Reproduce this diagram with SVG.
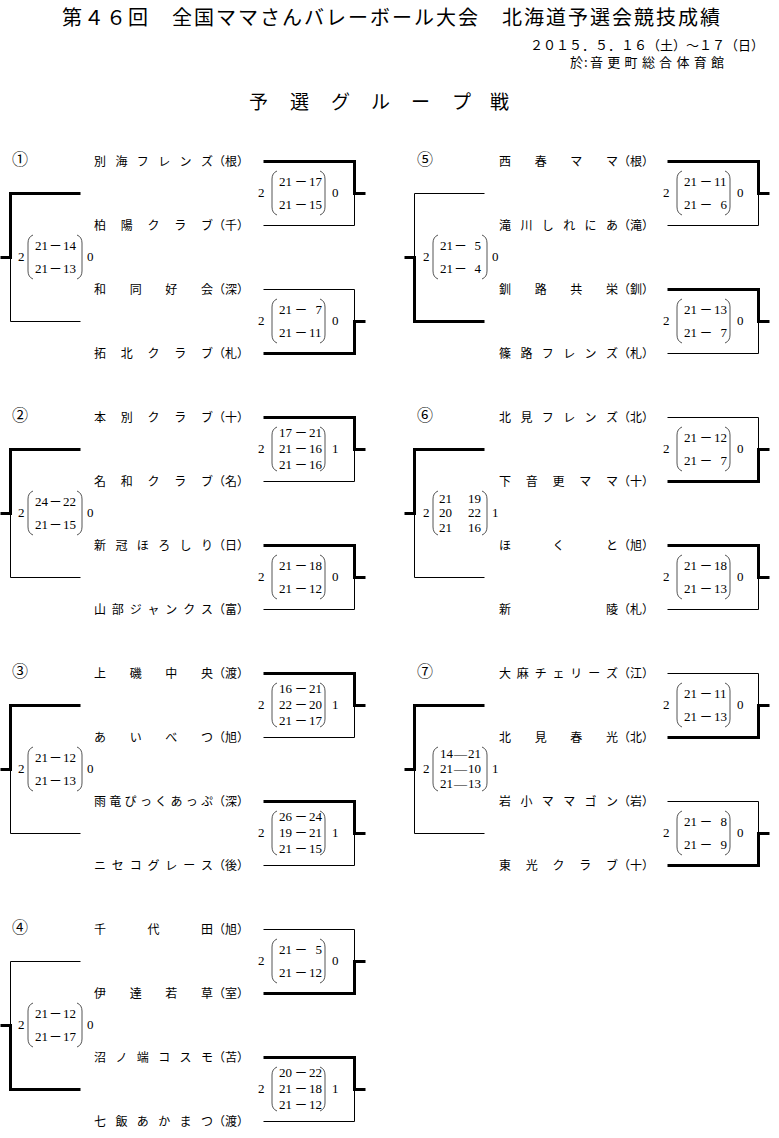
<svg xmlns="http://www.w3.org/2000/svg" xmlns:xlink="http://www.w3.org/1999/xlink" width="779" height="1138" viewBox="0 0 779 1138">
<style>
.hd{font-family:"Noto Sans CJK JP","Noto Sans CJK SC",sans-serif;fill:#000}
.tm{font-family:"Noto Sans CJK JP","Noto Sans CJK SC",sans-serif;font-size:12px;fill:#000}
.cn{font-family:"Noto Sans CJK JP","Noto Sans CJK SC",sans-serif;font-size:16px;fill:#000}
.sc{font-family:"Liberation Serif","Noto Sans CJK JP",serif;font-size:13px;fill:#000}
.pr{fill:none;stroke:#555;stroke-width:1}
.k{fill:none;stroke:#000;stroke-width:3;stroke-linejoin:miter}
.n{fill:none;stroke:#000;stroke-width:1}
</style>
<defs>
<path id="lp" class="pr" d="M5,-22 Q0,-20 0,-14 V14 Q0,20 5,22"/>
<path id="rp" class="pr" d="M0,-22 Q5,-20 5,-14 V14 Q5,20 0,22"/>
</defs>
<rect width="779" height="1138" fill="#fff"/>

<g id="header">
<text class="hd" x="62" y="25" font-size="20" letter-spacing="2">第４６回　全国ママさんバレーボール大会　北海道予選会競技成績</text>
<text class="hd" x="530" y="50" font-size="13">２０１５．５．１６（土）～１７（日）</text>
<text class="hd" x="570 584 590 607.3 624.6 641.9 659.1 676.4 693.7 711" y="67" font-size="13">於:音更町総合体育館</text>
<text class="hd" x="249 290 331 371 411 452 490" y="109" font-size="19">予選グループ戦</text>
</g>

<g id="connectors">
<g transform="translate(0.5,161.5)">
<path class="k" d="M263,0 H354 V32 H365"/><path class="n" d="M354,32 V64 H263"/>
<path class="k" d="M263,192 H354 V160 H365"/><path class="n" d="M354,160 V128 H263"/>
<path class="k" d="M80,32 H10 V96 H0"/><path class="n" d="M10,96 V160 H80"/>
</g>
<g transform="translate(0.5,417.5)">
<path class="k" d="M263,0 H354 V32 H365"/><path class="n" d="M354,32 V64 H263"/>
<path class="k" d="M263,128 H354 V160 H365"/><path class="n" d="M354,160 V192 H263"/>
<path class="k" d="M80,32 H10 V96 H0"/><path class="n" d="M10,96 V160 H80"/>
</g>
<g transform="translate(0.5,673.5)">
<path class="k" d="M263,0 H354 V32 H365"/><path class="n" d="M354,32 V64 H263"/>
<path class="k" d="M263,128 H354 V160 H365"/><path class="n" d="M354,160 V192 H263"/>
<path class="k" d="M80,32 H10 V96 H0"/><path class="n" d="M10,96 V160 H80"/>
</g>
<g transform="translate(0.5,929.5)">
<path class="k" d="M263,64 H354 V32 H365"/><path class="n" d="M354,32 V0 H263"/>
<path class="k" d="M263,128 H354 V160 H365"/><path class="n" d="M354,160 V192 H263"/>
<path class="k" d="M80,160 H10 V96 H0"/><path class="n" d="M10,96 V32 H80"/>
</g>
<g transform="translate(404.5,161.5)">
<path class="k" d="M263,0 H354 V32 H365"/><path class="n" d="M354,32 V64 H263"/>
<path class="k" d="M263,128 H354 V160 H365"/><path class="n" d="M354,160 V192 H263"/>
<path class="k" d="M80,160 H10 V96 H0"/><path class="n" d="M10,96 V32 H80"/>
</g>
<g transform="translate(404.5,417.5)">
<path class="k" d="M263,64 H354 V32 H365"/><path class="n" d="M354,32 V0 H263"/>
<path class="k" d="M263,128 H354 V160 H365"/><path class="n" d="M354,160 V192 H263"/>
<path class="k" d="M80,32 H10 V96 H0"/><path class="n" d="M10,96 V160 H80"/>
</g>
<g transform="translate(404.5,673.5)">
<path class="k" d="M263,64 H354 V32 H365"/><path class="n" d="M354,32 V0 H263"/>
<path class="k" d="M263,192 H354 V160 H365"/><path class="n" d="M354,160 V128 H263"/>
<path class="k" d="M80,32 H10 V96 H0"/><path class="n" d="M10,96 V160 H80"/>
</g>
</g>

<!-- group labels -->
<g id="label-1" transform="translate(0,161)"><text class="cn" x="12" y="4">①</text></g>
<g id="label-2" transform="translate(0,417)"><text class="cn" x="12" y="4">②</text></g>
<g id="label-3" transform="translate(0,673)"><text class="cn" x="12" y="4">③</text></g>
<g id="label-4" transform="translate(0,929)"><text class="cn" x="12" y="4">④</text></g>
<g id="label-5" transform="translate(405,161)"><text class="cn" x="12" y="4">⑤</text></g>
<g id="label-6" transform="translate(405,417)"><text class="cn" x="12" y="4">⑥</text></g>
<g id="label-7" transform="translate(405,673)"><text class="cn" x="12" y="4">⑦</text></g>

<!-- teams group 1 -->
<g id="g1-t1" transform="translate(0,161)"><text class="tm" x="94 115.4 136.8 158.2 179.6 201 213 225 237" y="4.5">別海フレンズ（根）</text></g>
<g id="g1-t2" transform="translate(0,225)"><text class="tm" x="94 120.8 147.5 174.3 201 213 225 237" y="4.5">柏陽クラブ（千）</text></g>
<g id="g1-t3" transform="translate(0,289)"><text class="tm" x="94 129.7 165.3 201 213 225 237" y="4.5">和同好会（深）</text></g>
<g id="g1-t4" transform="translate(0,353)"><text class="tm" x="94 120.8 147.5 174.3 201 213 225 237" y="4.5">拓北クラブ（札）</text></g>
<!-- group 2 -->
<g id="g2-t1" transform="translate(0,417)"><text class="tm" x="94 120.8 147.5 174.3 201 213 225 237" y="4.5">本別クラブ（十）</text></g>
<g id="g2-t2" transform="translate(0,481)"><text class="tm" x="94 120.8 147.5 174.3 201 213 225 237" y="4.5">名和クラブ（名）</text></g>
<g id="g2-t3" transform="translate(0,545)"><text class="tm" x="94 115.4 136.8 158.2 179.6 201 213 225 237" y="4.5">新冠ほろしり（日）</text></g>
<g id="g2-t4" transform="translate(0,609)"><text class="tm" x="94 111.8 129.7 147.5 165.3 183.2 201 213 225 237" y="4.5">山部ジャンクス（富）</text></g>
<!-- group 3 -->
<g id="g3-t1" transform="translate(0,673)"><text class="tm" x="94 129.7 165.3 201 213 225 237" y="4.5">上磯中央（渡）</text></g>
<g id="g3-t2" transform="translate(0,737)"><text class="tm" x="94 129.7 165.3 201 213 225 237" y="4.5">あいべつ（旭）</text></g>
<g id="g3-t3" transform="translate(0,801)"><text class="tm" x="94 109.3 124.6 139.9 155.1 170.4 185.7 201 213 225 237" y="4.5">雨竜ぴっくあっぷ（深）</text></g>
<g id="g3-t4" transform="translate(0,865)"><text class="tm" x="94 111.8 129.7 147.5 165.3 183.2 201 213 225 237" y="4.5">ニセコグレース（後）</text></g>
<!-- group 4 -->
<g id="g4-t1" transform="translate(0,929)"><text class="tm" x="94 147.5 201 213 225 237" y="4.5">千代田（旭）</text></g>
<g id="g4-t2" transform="translate(0,993)"><text class="tm" x="94 129.7 165.3 201 213 225 237" y="4.5">伊達若草（室）</text></g>
<g id="g4-t3" transform="translate(0,1057)"><text class="tm" x="94 115.4 136.8 158.2 179.6 201 213 225 237" y="4.5">沼ノ端コスモ（苫）</text></g>
<g id="g4-t4" transform="translate(0,1121)"><text class="tm" x="94 115.4 136.8 158.2 179.6 201 213 225 237" y="4.5">七飯あかまつ（渡）</text></g>
<!-- group 5 -->
<g id="g5-t1" transform="translate(405,161)"><text class="tm" x="94 129.7 165.3 201 213 225 237" y="4.5">西春ママ（根）</text></g>
<g id="g5-t2" transform="translate(405,225)"><text class="tm" x="94 115.4 136.8 158.2 179.6 201 213 225 237" y="4.5">滝川しれにあ（滝）</text></g>
<g id="g5-t3" transform="translate(405,289)"><text class="tm" x="94 129.7 165.3 201 213 225 237" y="4.5">釧路共栄（釧）</text></g>
<g id="g5-t4" transform="translate(405,353)"><text class="tm" x="94 115.4 136.8 158.2 179.6 201 213 225 237" y="4.5">篠路フレンズ（札）</text></g>
<!-- group 6 -->
<g id="g6-t1" transform="translate(405,417)"><text class="tm" x="94 115.4 136.8 158.2 179.6 201 213 225 237" y="4.5">北見フレンズ（北）</text></g>
<g id="g6-t2" transform="translate(405,481)"><text class="tm" x="94 120.8 147.5 174.3 201 213 225 237" y="4.5">下音更ママ（十）</text></g>
<g id="g6-t3" transform="translate(405,545)"><text class="tm" x="94 147.5 201 213 225 237" y="4.5">ほくと（旭）</text></g>
<g id="g6-t4" transform="translate(405,609)"><text class="tm" x="94 201 213 225 237" y="4.5">新陵（札）</text></g>
<!-- group 7 -->
<g id="g7-t1" transform="translate(405,673)"><text class="tm" x="94 111.8 129.7 147.5 165.3 183.2 201 213 225 237" y="4.5">大麻チェリーズ（江）</text></g>
<g id="g7-t2" transform="translate(405,737)"><text class="tm" x="94 129.7 165.3 201 213 225 237" y="4.5">北見春光（北）</text></g>
<g id="g7-t3" transform="translate(405,801)"><text class="tm" x="94 115.4 136.8 158.2 179.6 201 213 225 237" y="4.5">岩小ママゴン（岩）</text></g>
<g id="g7-t4" transform="translate(405,865)"><text class="tm" x="94 120.8 147.5 174.3 201 213 225 237" y="4.5">東光クラブ（十）</text></g>

<!-- scores group 1 -->
<g id="g1-m1" transform="translate(0,193)">
<text class="sc" x="258" y="4.3">2</text><use href="#lp" x="272"/><use href="#rp" x="320"/>
<text class="sc" y="-7"><tspan x="279">21</tspan><tspan x="294.5">－</tspan><tspan x="309">17</tspan></text>
<text class="sc" y="16"><tspan x="279">21</tspan><tspan x="294.5">－</tspan><tspan x="309">15</tspan></text>
<text class="sc" x="332" y="4.3">0</text></g>
<g id="g1-m2" transform="translate(0,321)">
<text class="sc" x="258" y="4.3">2</text><use href="#lp" x="272"/><use href="#rp" x="320"/>
<text class="sc" y="-7"><tspan x="279">21</tspan><tspan x="294.5">－</tspan><tspan x="315.5">7</tspan></text>
<text class="sc" y="16"><tspan x="279">21</tspan><tspan x="294.5">－</tspan><tspan x="309">11</tspan></text>
<text class="sc" x="332" y="4.3">0</text></g>
<g id="g1-final" transform="translate(0,257)">
<text class="sc" x="18" y="4.3">2</text><use href="#lp" x="28"/><use href="#rp" x="77"/>
<text class="sc" y="-7"><tspan x="35">21</tspan><tspan x="49">－</tspan><tspan x="63">14</tspan></text>
<text class="sc" y="16"><tspan x="35">21</tspan><tspan x="49">－</tspan><tspan x="63">13</tspan></text>
<text class="sc" x="87" y="4.3">0</text></g>

<!-- group 2 -->
<g id="g2-m1" transform="translate(0,449)">
<text class="sc" x="258" y="4.3">2</text><use href="#lp" x="272"/><use href="#rp" x="320"/>
<text class="sc" y="-11.7"><tspan x="279">17</tspan><tspan x="294.5">－</tspan><tspan x="309">21</tspan></text>
<text class="sc" y="4.3"><tspan x="279">21</tspan><tspan x="294.5">－</tspan><tspan x="309">16</tspan></text>
<text class="sc" y="20.3"><tspan x="279">21</tspan><tspan x="294.5">－</tspan><tspan x="309">16</tspan></text>
<text class="sc" x="332" y="4.3">1</text></g>
<g id="g2-m2" transform="translate(0,577)">
<text class="sc" x="258" y="4.3">2</text><use href="#lp" x="272"/><use href="#rp" x="320"/>
<text class="sc" y="-7"><tspan x="279">21</tspan><tspan x="294.5">－</tspan><tspan x="309">18</tspan></text>
<text class="sc" y="16"><tspan x="279">21</tspan><tspan x="294.5">－</tspan><tspan x="309">12</tspan></text>
<text class="sc" x="332" y="4.3">0</text></g>
<g id="g2-final" transform="translate(0,513)">
<text class="sc" x="18" y="4.3">2</text><use href="#lp" x="28"/><use href="#rp" x="77"/>
<text class="sc" y="-7"><tspan x="35">24</tspan><tspan x="49">－</tspan><tspan x="63">22</tspan></text>
<text class="sc" y="16"><tspan x="35">21</tspan><tspan x="49">－</tspan><tspan x="63">15</tspan></text>
<text class="sc" x="87" y="4.3">0</text></g>

<!-- group 3 -->
<g id="g3-m1" transform="translate(0,705)">
<text class="sc" x="258" y="4.3">2</text><use href="#lp" x="272"/><use href="#rp" x="320"/>
<text class="sc" y="-11.7"><tspan x="279">16</tspan><tspan x="294.5">－</tspan><tspan x="309">21</tspan></text>
<text class="sc" y="4.3"><tspan x="279">22</tspan><tspan x="294.5">－</tspan><tspan x="309">20</tspan></text>
<text class="sc" y="20.3"><tspan x="279">21</tspan><tspan x="294.5">－</tspan><tspan x="309">17</tspan></text>
<text class="sc" x="332" y="4.3">1</text></g>
<g id="g3-m2" transform="translate(0,833)">
<text class="sc" x="258" y="4.3">2</text><use href="#lp" x="272"/><use href="#rp" x="320"/>
<text class="sc" y="-11.7"><tspan x="279">26</tspan><tspan x="294.5">－</tspan><tspan x="309">24</tspan></text>
<text class="sc" y="4.3"><tspan x="279">19</tspan><tspan x="294.5">－</tspan><tspan x="309">21</tspan></text>
<text class="sc" y="20.3"><tspan x="279">21</tspan><tspan x="294.5">－</tspan><tspan x="309">15</tspan></text>
<text class="sc" x="332" y="4.3">1</text></g>
<g id="g3-final" transform="translate(0,769)">
<text class="sc" x="18" y="4.3">2</text><use href="#lp" x="28"/><use href="#rp" x="77"/>
<text class="sc" y="-7"><tspan x="35">21</tspan><tspan x="49">－</tspan><tspan x="63">12</tspan></text>
<text class="sc" y="16"><tspan x="35">21</tspan><tspan x="49">－</tspan><tspan x="63">13</tspan></text>
<text class="sc" x="87" y="4.3">0</text></g>

<!-- group 4 -->
<g id="g4-m1" transform="translate(0,961)">
<text class="sc" x="258" y="4.3">2</text><use href="#lp" x="272"/><use href="#rp" x="320"/>
<text class="sc" y="-7"><tspan x="279">21</tspan><tspan x="294.5">－</tspan><tspan x="315.5">5</tspan></text>
<text class="sc" y="16"><tspan x="279">21</tspan><tspan x="294.5">－</tspan><tspan x="309">12</tspan></text>
<text class="sc" x="332" y="4.3">0</text></g>
<g id="g4-m2" transform="translate(0,1089)">
<text class="sc" x="258" y="4.3">2</text><use href="#lp" x="272"/><use href="#rp" x="320"/>
<text class="sc" y="-11.7"><tspan x="279">20</tspan><tspan x="294.5">－</tspan><tspan x="309">22</tspan></text>
<text class="sc" y="4.3"><tspan x="279">21</tspan><tspan x="294.5">－</tspan><tspan x="309">18</tspan></text>
<text class="sc" y="20.3"><tspan x="279">21</tspan><tspan x="294.5">－</tspan><tspan x="309">12</tspan></text>
<text class="sc" x="332" y="4.3">1</text></g>
<g id="g4-final" transform="translate(0,1025)">
<text class="sc" x="18" y="4.3">2</text><use href="#lp" x="28"/><use href="#rp" x="77"/>
<text class="sc" y="-7"><tspan x="35">21</tspan><tspan x="49">－</tspan><tspan x="63">12</tspan></text>
<text class="sc" y="16"><tspan x="35">21</tspan><tspan x="49">－</tspan><tspan x="63">17</tspan></text>
<text class="sc" x="87" y="4.3">0</text></g>

<!-- group 5 -->
<g id="g5-m1" transform="translate(405,193)">
<text class="sc" x="258" y="4.3">2</text><use href="#lp" x="272"/><use href="#rp" x="320"/>
<text class="sc" y="-7"><tspan x="279">21</tspan><tspan x="294.5">－</tspan><tspan x="309">11</tspan></text>
<text class="sc" y="16"><tspan x="279">21</tspan><tspan x="294.5">－</tspan><tspan x="315.5">6</tspan></text>
<text class="sc" x="332" y="4.3">0</text></g>
<g id="g5-m2" transform="translate(405,321)">
<text class="sc" x="258" y="4.3">2</text><use href="#lp" x="272"/><use href="#rp" x="320"/>
<text class="sc" y="-7"><tspan x="279">21</tspan><tspan x="294.5">－</tspan><tspan x="309">13</tspan></text>
<text class="sc" y="16"><tspan x="279">21</tspan><tspan x="294.5">－</tspan><tspan x="315.5">7</tspan></text>
<text class="sc" x="332" y="4.3">0</text></g>
<g id="g5-final" transform="translate(405,257)">
<text class="sc" x="18" y="4.3">2</text><use href="#lp" x="28"/><use href="#rp" x="77"/>
<text class="sc" y="-7"><tspan x="35">21</tspan><tspan x="49">－</tspan><tspan x="69.5">5</tspan></text>
<text class="sc" y="16"><tspan x="35">21</tspan><tspan x="49">－</tspan><tspan x="69.5">4</tspan></text>
<text class="sc" x="87" y="4.3">0</text></g>

<!-- group 6 -->
<g id="g6-m1" transform="translate(405,449)">
<text class="sc" x="258" y="4.3">2</text><use href="#lp" x="272"/><use href="#rp" x="320"/>
<text class="sc" y="-7"><tspan x="279">21</tspan><tspan x="294.5">－</tspan><tspan x="309">12</tspan></text>
<text class="sc" y="16"><tspan x="279">21</tspan><tspan x="294.5">－</tspan><tspan x="315.5">7</tspan></text>
<text class="sc" x="332" y="4.3">0</text></g>
<g id="g6-m2" transform="translate(405,577)">
<text class="sc" x="258" y="4.3">2</text><use href="#lp" x="272"/><use href="#rp" x="320"/>
<text class="sc" y="-7"><tspan x="279">21</tspan><tspan x="294.5">－</tspan><tspan x="309">18</tspan></text>
<text class="sc" y="16"><tspan x="279">21</tspan><tspan x="294.5">－</tspan><tspan x="309">13</tspan></text>
<text class="sc" x="332" y="4.3">0</text></g>
<g id="g6-final" transform="translate(405,513)">
<text class="sc" x="18" y="4.3">2</text><use href="#lp" x="28"/><use href="#rp" x="77"/>
<text class="sc" y="-10"><tspan x="34">21</tspan><tspan x="63">19</tspan></text>
<text class="sc" y="4.3"><tspan x="34">20</tspan><tspan x="63">22</tspan></text>
<text class="sc" y="18.6"><tspan x="34">21</tspan><tspan x="63">16</tspan></text>
<text class="sc" x="87" y="4.3">1</text></g>

<!-- group 7 -->
<g id="g7-m1" transform="translate(405,705)">
<text class="sc" x="258" y="4.3">2</text><use href="#lp" x="272"/><use href="#rp" x="320"/>
<text class="sc" y="-7"><tspan x="279">21</tspan><tspan x="294.5">－</tspan><tspan x="309">11</tspan></text>
<text class="sc" y="16"><tspan x="279">21</tspan><tspan x="294.5">－</tspan><tspan x="309">13</tspan></text>
<text class="sc" x="332" y="4.3">0</text></g>
<g id="g7-m2" transform="translate(405,833)">
<text class="sc" x="258" y="4.3">2</text><use href="#lp" x="272"/><use href="#rp" x="320"/>
<text class="sc" y="-7"><tspan x="279">21</tspan><tspan x="294.5">－</tspan><tspan x="315.5">8</tspan></text>
<text class="sc" y="16"><tspan x="279">21</tspan><tspan x="294.5">－</tspan><tspan x="315.5">9</tspan></text>
<text class="sc" x="332" y="4.3">0</text></g>
<g id="g7-final" transform="translate(405,769)">
<text class="sc" x="18" y="4.3">2</text><use href="#lp" x="28"/><use href="#rp" x="77"/>
<text class="sc" y="-10.7"><tspan x="35">14</tspan><tspan x="49">—</tspan><tspan x="63">21</tspan></text>
<text class="sc" y="4.3"><tspan x="35">21</tspan><tspan x="49">—</tspan><tspan x="63">10</tspan></text>
<text class="sc" y="19.3"><tspan x="35">21</tspan><tspan x="49">—</tspan><tspan x="63">13</tspan></text>
<text class="sc" x="87" y="4.3">1</text></g>
</svg>
